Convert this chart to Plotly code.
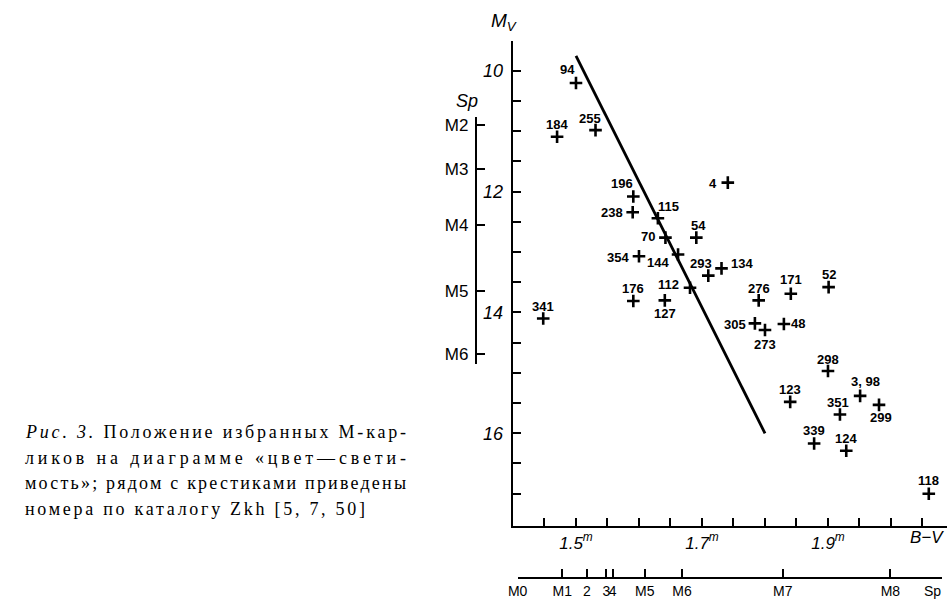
import plotly.graph_objects as go

W, H = 952, 599

# ---------------- data ----------------
star_ids = ["94", "184", "255", "341", "196", "238", "115", "70", "54", "4",
            "354", "144", "293", "134", "112", "176", "127", "276", "305", "273",
            "171", "52", "48", "298", "3, 98", "299", "123", "351", "339", "124", "118"]
bv = [1.500, 1.470, 1.531, 1.448, 1.591, 1.590, 1.630, 1.642, 1.691, 1.741,
      1.600, 1.662, 1.710, 1.731, 1.681, 1.591, 1.641, 1.790, 1.784, 1.800,
      1.841, 1.901, 1.830, 1.900, 1.951, 1.981, 1.840, 1.919, 1.878, 1.929, 2.060]
mv = [10.20, 11.09, 10.98, 14.10, 12.08, 12.34, 12.44, 12.76, 12.76, 11.85,
      13.07, 13.04, 13.39, 13.27, 13.59, 13.81, 13.80, 13.80, 14.18, 14.29,
      13.69, 13.58, 14.19, 14.97, 15.38, 15.53, 15.48, 15.69, 16.17, 16.29, 17.00]

line_bv = [1.50, 1.80]
line_mv = [9.75, 16.0]

x_tick_vals = [1.5, 1.7, 1.9]
x_tick_text = ["1.5", "1.7", "1.9"]
x_minor_vals = [1.45, 1.55, 1.60, 1.65, 1.75, 1.80, 1.85, 1.95, 2.00, 2.05]
y_tick_vals = [10, 12, 14, 16]
y_tick_text = ["10", "12", "14", "16"]
y_minor_vals = [9.5, 10.5, 11, 11.5, 12.5, 13, 13.5, 14.5, 15, 15.5, 16.5, 17]

sp_bottom_labels = ["M0", "M1", "2", "3", "4", "M5", "M6", "M7", "M8"]
sp_bottom_bv = [1.407, 1.478, 1.517, 1.548, 1.558, 1.609, 1.668, 1.828, 1.999]
sp_left_labels = ["M2", "M3", "M4", "M5", "M6"]
sp_left_mv = [10.89, 11.62, 12.55, 13.64, 14.69]

caption_lines = [
    "<i>Рис. 3.</i> Положение избранных М-кар-",
    "ликов на диаграмме «цвет—свети-",
    "мость»; рядом с крестиками приведены",
    "номера по каталогу Zkh [5, 7, 50]",
]
caption_widths = [381, 381, 381, 340]   # justified line widths, px

# label placement (xanchor, dx px, dy px relative to cross; dy>0 = down)
label_pos = {
    "94": ("center", -8, -13), "184": ("center", 0, -12), "255": ("center", -6, -12),
    "341": ("center", 0, -12), "196": ("center", -11, -13), "238": ("right", -8, 0),
    "115": ("center", 11, -12), "70": ("right", -8, -1), "54": ("center", 2, -12),
    "4": ("right", -9, 1), "354": ("right", -8, 1), "144": ("right", -7, 8),
    "293": ("center", -7, -12), "134": ("left", 7, -5), "112": ("right", -9, -3),
    "176": ("center", 0, -13), "127": ("center", 0, 13), "276": ("center", 0, -12),
    "305": ("right", -7, 1), "273": ("center", 0, 14), "171": ("center", 0, -14),
    "52": ("center", 0, -13), "48": ("left", 5, 0), "298": ("center", 0, -12),
    "3, 98": ("center", 5, -14), "299": ("center", 2, 13), "123": ("center", 0, -12),
    "351": ("center", -2, -12), "339": ("center", 0, -13), "124": ("center", 0, -12),
    "118": ("center", 0, -13),
}

# ---------------- geometry (pixels) ----------------
PL, PR, PT, PB = 508, 947, 40, 526
X_RANGE = [1.3995, 2.089]
Y_RANGE = [17.537, 9.504]


def px(x):
    return x / W


def py(y):
    return 1 - y / H


SANS = "Arial, Liberation Sans, sans-serif"
NARROW = "Liberation Sans Narrow, Arial Narrow, Liberation Sans, sans-serif"
SERIF = "Liberation Serif, Times New Roman, serif"

fig = go.Figure()

fig.add_trace(go.Scatter(x=line_bv, y=line_mv, mode="lines",
                         line=dict(color="black", width=2.8),
                         hoverinfo="skip", showlegend=False))
fig.add_trace(go.Scatter(x=bv, y=mv, mode="markers",
                         marker=dict(symbol="cross-thin", size=9, color="black",
                                     line=dict(color="black", width=2.6)),
                         text=star_ids, showlegend=False))
# dummy traces to register auxiliary axes
fig.add_trace(go.Scatter(x=[None], y=[None], xaxis="x2", yaxis="y",
                         showlegend=False, hoverinfo="skip"))
fig.add_trace(go.Scatter(x=[None], y=[None], xaxis="x", yaxis="y2",
                         showlegend=False, hoverinfo="skip"))

annotations = []
for sid, x, y in zip(star_ids, bv, mv):
    xa, dx, dy = label_pos[sid]
    annotations.append(dict(x=x, y=y, xref="x", yref="y", text=sid, showarrow=False,
                            xanchor=xa, yanchor="middle", xshift=dx, yshift=-dy,
                            font=dict(family=SANS, size=13, color="black", weight="bold")))


def paper_text(x, y, text, font, xanchor="center"):
    return dict(x=px(x), y=py(y), xref="paper", yref="paper", text=text,
                showarrow=False, xanchor=xanchor, yanchor="middle", font=font)


annotations.append(paper_text(499, 21, "<i>M<sub>V</sub></i>",
                              dict(family=SANS, size=19, color="black")))
annotations.append(paper_text(462, 100, "<i>Sp</i>",
                              dict(family=SANS, size=18, color="black")))
annotations.append(paper_text(927, 537, "<i>B−V</i>",
                              dict(family=SANS, size=17, color="black")))
annotations.append(paper_text(932, 591, "Sp",
                              dict(family=NARROW, size=14, color="black")))

cap_start = len(annotations)
cap_y = [432, 458, 483, 509]
for t, yy in zip(caption_lines, cap_y):
    annotations.append(paper_text(25, yy, t, dict(family=SERIF, size=18, color="black"),
                                  xanchor="left"))

fig.update_layout(
    width=W, height=H,
    margin=dict(l=0, r=0, t=0, b=0),
    paper_bgcolor="white", plot_bgcolor="rgba(0,0,0,0)",
    showlegend=False,
    annotations=annotations,
    xaxis=dict(domain=[px(PL), px(PR)], range=X_RANGE, anchor="y",
               showline=True, linecolor="black", linewidth=2,
               showgrid=False, zeroline=False,
               ticks="inside", ticklen=8, tickwidth=2, tickcolor="black",
               tickmode="array", tickvals=x_tick_vals,
               ticktext=["<i>%s<sup>m</sup></i>" % t for t in x_tick_text],
               minor=dict(tickmode="array", tickvals=x_minor_vals, ticks="inside",
                          ticklen=8, tickwidth=2, tickcolor="black", showgrid=False),
               tickfont=dict(family=SANS, size=17, color="black")),
    yaxis=dict(domain=[py(PB), py(PT)], range=Y_RANGE, anchor="x",
               showline=True, linecolor="black", linewidth=2,
               showgrid=False, zeroline=False,
               ticks="inside", ticklen=8, tickwidth=2, tickcolor="black",
               tickmode="array", tickvals=y_tick_vals,
               ticktext=["<i>%s</i>" % t for t in y_tick_text],
               minor=dict(tickmode="array", tickvals=y_minor_vals, ticks="inside",
                          ticklen=8, tickwidth=2, tickcolor="black", showgrid=False),
               ticklabelstandoff=4,
               tickfont=dict(family=SANS, size=18, color="black")),
    xaxis2=dict(domain=[px(513), px(941.7)], range=[1.407, 2.0806],
                anchor="free", position=py(577.7), side="bottom",
                showline=True, linecolor="black", linewidth=2,
                showgrid=False, zeroline=False, tickangle=0,
                ticks="inside", ticklen=8, tickwidth=2, tickcolor="black",
                tickmode="array", tickvals=sp_bottom_bv, ticktext=sp_bottom_labels,
                tickfont=dict(family=NARROW, size=14, color="black")),
    yaxis2=dict(domain=[py(364), py(116)], range=[14.86, 10.76],
                anchor="free", position=px(470.7), side="left",
                showline=True, linecolor="black", linewidth=2,
                showgrid=False, zeroline=False,
                ticks="inside", ticklen=8, tickwidth=2, tickcolor="black",
                tickmode="array", tickvals=sp_left_mv, ticktext=sp_left_labels,
                ticklabelstandoff=3,
                tickfont=dict(family=SANS, size=17, color="black")),
)

# justify caption lines (letter spacing) like the typeset original, left edge at 25px
post = """
var gd = document.getElementById('{plot_id}');
var widths = %s, start = %d, left = 25;
widths.forEach(function(w, i) {
  var g = gd.querySelector('g.annotation[data-index="' + (start + i) + '"]');
  if (!g) return;
  var t = g.querySelector('text.annotation-text');
  if (!t) return;
  var b0 = t.getBBox();
  var n = t.textContent.length;
  var ls = (w - b0.width) / Math.max(n - 1, 1);
  if (ls < 0) ls = 0;
  t.style.letterSpacing = ls + 'px';
  var r = t.getBoundingClientRect();
  var gr = gd.getBoundingClientRect();
  var x = parseFloat(t.getAttribute('x') || '0');
  t.setAttribute('x', x + (left - (r.left - gr.left)));
});
""" % (str(caption_widths), cap_start)

fig.write_html("out.html", post_script=post)
